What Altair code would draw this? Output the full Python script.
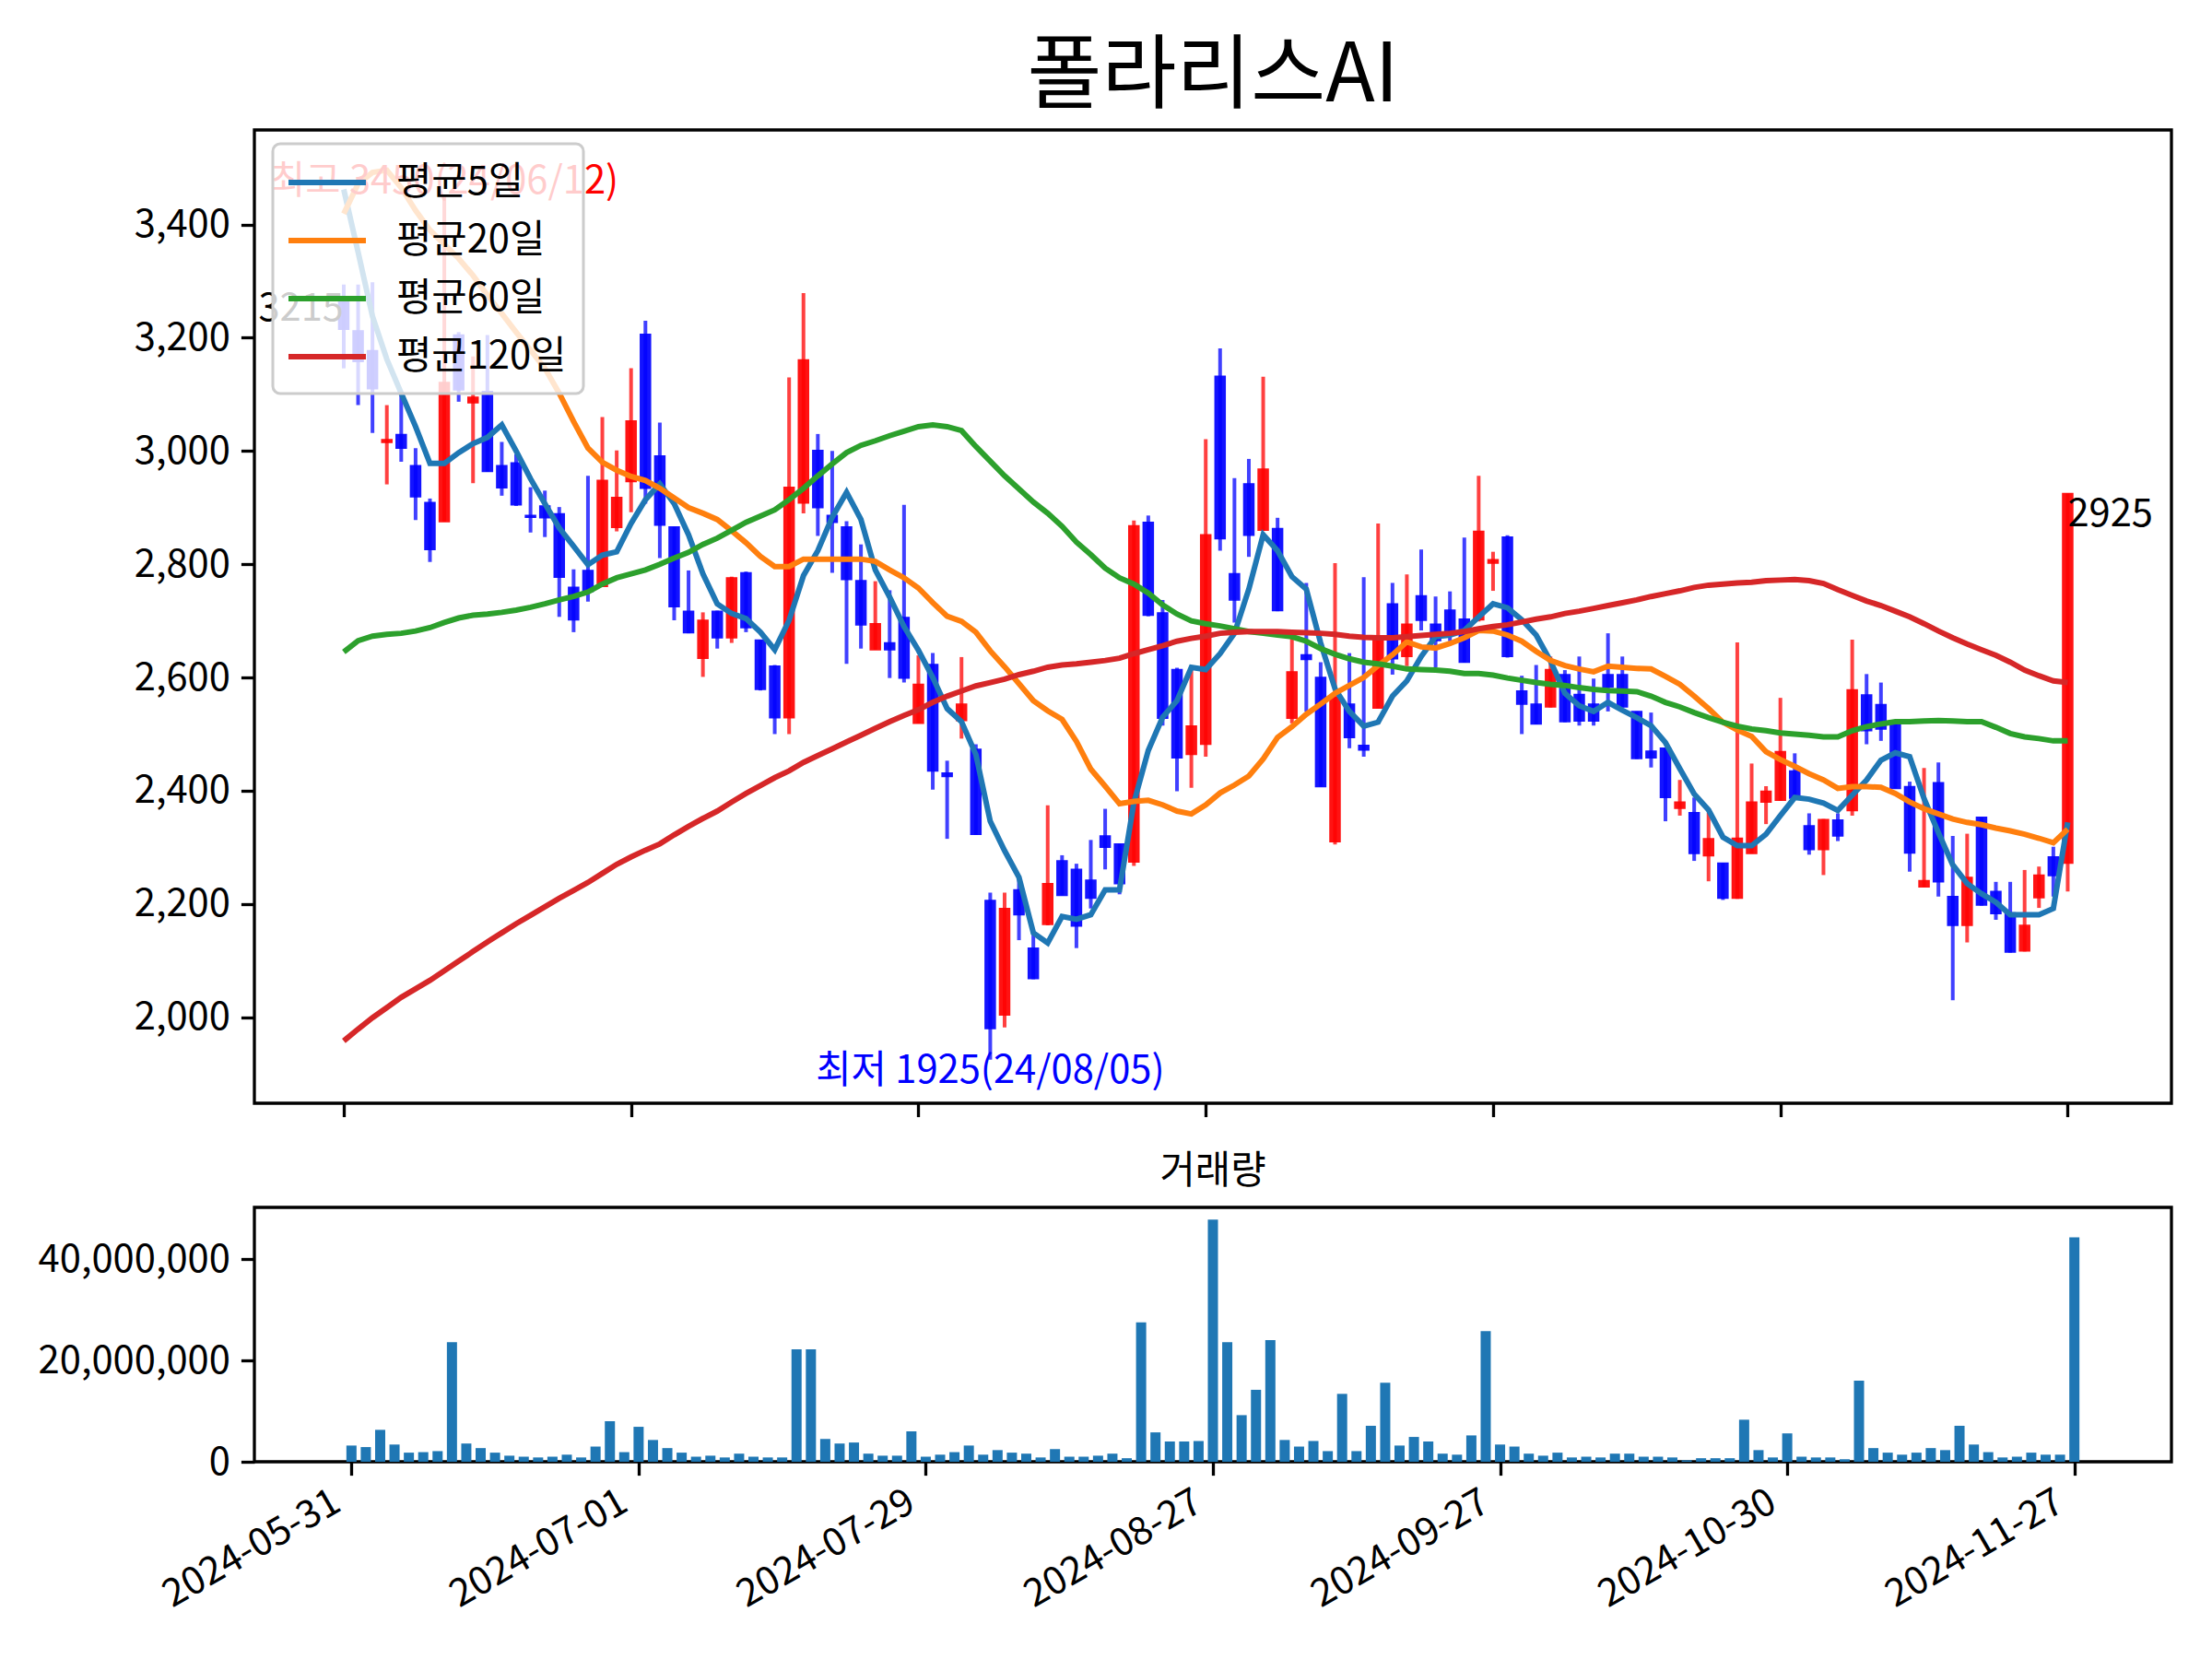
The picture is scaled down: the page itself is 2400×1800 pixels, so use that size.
import altair as alt
import pandas as pd

# ---------------- data ----------------
tick_idx = [0, 20, 40, 60, 80, 100, 120]
tick_labels = ["2024-05-31", "2024-07-01", "2024-07-29", "2024-08-27",
               "2024-09-27", "2024-10-30", "2024-11-27"]

open_ = [3267, 3212, 3177, 3015, 3029, 2974, 2909, 2875, 3205, 3085,
         3105, 2974, 2979, 2886, 2903, 2889, 2759, 2789, 2761, 2865,
         2946, 3206, 2991, 2866, 2717, 2634, 2717, 2670, 2785, 2666,
         2620, 2529, 2908, 3001, 2886, 2866, 2771, 2649, 2661, 2706,
         2519, 2623, 2431, 2524, 2473, 2206, 2004, 2225, 2122, 2164,
         2276, 2261, 2242, 2320, 2306, 2274, 2874, 2714, 2614, 2464,
         2482, 3132, 2783, 2942, 2860, 2863, 2528, 2640, 2600, 2310,
         2553, 2480, 2546, 2730, 2637, 2744, 2694, 2719, 2703, 2702,
         2802, 2848, 2576, 2553, 2548, 2605, 2570, 2553, 2605, 2605,
         2540, 2470, 2475, 2369, 2361, 2285, 2272, 2210, 2289, 2380,
         2383, 2435, 2338, 2296, 2348, 2365, 2569, 2552, 2521, 2407,
         2230, 2414, 2213, 2162, 2353, 2222, 2184, 2117, 2211, 2283,
         2272]
high = [3294, 3294, 3298, 3081, 3102, 3005, 2916, 3450, 3210, 3167,
        3205, 3016, 2994, 2936, 2930, 2901, 2791, 2956, 3060, 3001,
        3146, 3230, 3050, 2866, 2789, 2715, 2718, 2778, 2787, 2666,
        2622, 3130, 3279, 3030, 3000, 2876, 2835, 2770, 2754, 2905,
        2639, 2643, 2453, 2636, 2482, 2220, 2220, 2247, 2148, 2374,
        2286, 2271, 2313, 2368, 2306, 2877, 2886, 2737, 2617, 2618,
        3021, 3181, 2952, 2986, 3131, 2882, 2670, 2767, 2627, 2802,
        2643, 2777, 2872, 2767, 2782, 2826, 2743, 2752, 2847, 2956,
        2822, 2851, 2603, 2622, 2637, 2613, 2637, 2598, 2678, 2637,
        2540, 2538, 2475, 2419, 2388, 2361, 2272, 2662, 2448, 2408,
        2564, 2466, 2360, 2350, 2360, 2667, 2606, 2591, 2524, 2416,
        2440, 2450, 2320, 2324, 2353, 2239, 2239, 2260, 2266, 2301,
        2925]
low = [3146, 3081, 3032, 2941, 2981, 2878, 2804, 2875, 3087, 2943,
       2963, 2921, 2903, 2856, 2848, 2707, 2680, 2734, 2761, 2858,
       2892, 2907, 2811, 2701, 2678, 2601, 2651, 2661, 2680, 2577,
       2500, 2500, 2890, 2850, 2785, 2624, 2651, 2649, 2599, 2591,
       2519, 2402, 2315, 2492, 2322, 1925, 1982, 2136, 2067, 2162,
       2215, 2122, 2192, 2261, 2217, 2267, 2708, 2515, 2399, 2405,
       2460, 2824, 2697, 2813, 2859, 2717, 2519, 2540, 2407, 2305,
       2475, 2460, 2545, 2605, 2620, 2683, 2618, 2664, 2626, 2699,
       2753, 2635, 2500, 2517, 2547, 2521, 2515, 2515, 2540, 2547,
       2456, 2441, 2346, 2356, 2276, 2240, 2207, 2209, 2289, 2341,
       2382, 2386, 2287, 2251, 2311, 2356, 2482, 2488, 2404, 2257,
       2230, 2213, 2030, 2132, 2197, 2172, 2114, 2116, 2193, 2213,
       2222]
close = [3215, 3158, 3110, 3020, 3005, 2919, 2826, 3121, 3108, 3095,
         2964, 2935, 2905, 2883, 2882, 2777, 2702, 2752, 2948, 2918,
         3053, 2934, 2869, 2725, 2679, 2701, 2670, 2776, 2688, 2579,
         2529, 2936, 3161, 2900, 2874, 2773, 2693, 2695, 2649, 2599,
         2588, 2435, 2425, 2553, 2323, 1980, 2192, 2181, 2068, 2236,
         2215, 2161, 2210, 2300, 2236, 2868, 2710, 2528, 2458, 2514,
         2852, 2845, 2737, 2851, 2968, 2718, 2610, 2632, 2407, 2565,
         2494, 2472, 2667, 2633, 2694, 2701, 2665, 2675, 2627, 2858,
         2808, 2637, 2553, 2518, 2614, 2522, 2523, 2523, 2583, 2548,
         2457, 2458, 2388, 2380, 2289, 2315, 2210, 2316, 2380, 2399,
         2469, 2387, 2296, 2349, 2320, 2578, 2506, 2509, 2404, 2290,
         2241, 2239, 2162, 2247, 2198, 2183, 2115, 2162, 2251, 2250,
         2925]
volume_mil = [3.2, 2.9, 6.3, 3.4, 1.8, 1.9, 2.1, 23.6, 3.6, 2.7,
              1.8, 1.2, 1.0, 0.85, 1.0, 1.4, 0.85, 3.0, 8.0, 1.9,
              6.9, 4.3, 2.7, 1.8, 1.0, 1.2, 0.85, 1.6, 1.0, 0.85,
              0.85, 22.2, 22.2, 4.5, 3.6, 3.8, 1.6, 1.2, 1.2, 6.0,
              1.0, 1.4, 1.9, 3.2, 1.4, 2.3, 1.8, 1.6, 0.85, 2.5,
              1.0, 1.0, 1.2, 1.6, 0.7, 27.5, 5.8, 4.0, 4.0, 4.1,
              47.8, 23.6, 9.2, 14.2, 24.0, 4.3, 3.0, 4.1, 2.1, 13.4,
              2.1, 7.1, 15.6, 3.2, 4.9, 4.0, 1.6, 1.4, 5.2, 25.8,
              3.4, 3.0, 1.6, 1.2, 1.8, 0.85, 1.0, 0.85, 1.6, 1.6,
              1.0, 1.0, 0.85, 0.3, 0.7, 0.7, 0.7, 8.3, 2.3, 0.85,
              5.6, 1.0, 0.85, 0.85, 0.5, 16.0, 2.7, 1.8, 1.4, 1.8,
              2.7, 2.3, 7.1, 3.4, 1.9, 0.85, 1.0, 1.8, 1.4, 1.4,
              44.3]
ma5 = [3462, 3351, 3238, 3162, 3102, 3043, 2978, 2978, 2997, 3013,
       3024, 3046, 3000, 2951, 2907, 2864, 2832, 2799, 2816, 2822,
       2872, 2914, 2942, 2907, 2852, 2783, 2730, 2713, 2704, 2680,
       2649, 2701, 2780, 2824, 2883, 2927, 2879, 2790, 2742, 2690,
       2648, 2600, 2545, 2522, 2464, 2346, 2294, 2247, 2149, 2131,
       2178, 2173, 2181, 2225, 2225, 2379, 2471, 2530, 2559, 2618,
       2614, 2642, 2678, 2756, 2852, 2824, 2778, 2756, 2661, 2580,
       2540, 2514, 2521, 2567, 2594, 2637, 2672, 2675, 2683, 2707,
       2730, 2723, 2702, 2675, 2629, 2572, 2550, 2540, 2556, 2542,
       2529, 2515, 2485, 2439, 2394, 2366, 2318, 2303, 2303, 2323,
       2356, 2388, 2385, 2378, 2365, 2392, 2419, 2454, 2467, 2460,
       2386, 2326, 2269, 2236, 2218, 2203, 2181, 2181, 2181, 2192,
       2344]
ma20 = [3419, 3472, 3492, 3496, 3465, 3425, 3390, 3365, 3340, 3310,
        3275, 3243, 3210, 3178, 3146, 3102, 3052, 3005, 2980, 2966,
        2955, 2948, 2934, 2917, 2900, 2890, 2879, 2859, 2838, 2814,
        2796, 2796, 2809, 2809, 2809, 2809, 2809, 2805, 2790, 2776,
        2758, 2732, 2708, 2699, 2680, 2647, 2619, 2589, 2559, 2541,
        2526, 2487, 2438, 2408, 2377, 2381, 2383, 2375, 2364, 2359,
        2375, 2396, 2410, 2426, 2456, 2494, 2513, 2535, 2553, 2572,
        2586, 2600, 2621, 2640, 2663, 2654, 2652, 2660, 2670, 2683,
        2682, 2675, 2664, 2646, 2630, 2621, 2615, 2610, 2620, 2618,
        2616, 2615, 2602, 2588, 2567, 2545, 2521, 2507, 2496, 2469,
        2455, 2443, 2430, 2419, 2404, 2407, 2407, 2406, 2395, 2380,
        2368, 2359, 2350, 2344, 2340, 2334, 2329, 2323, 2316, 2308,
        2332]
ma60 = [2645, 2665, 2673, 2676, 2678, 2682, 2688, 2697, 2705, 2710,
        2712, 2715, 2719, 2724, 2730, 2737, 2743, 2751, 2765, 2776,
        2783, 2790, 2800, 2811, 2821, 2835, 2846, 2860, 2874, 2885,
        2896, 2914, 2934, 2956, 2977, 2997, 3010, 3018, 3027, 3035,
        3043, 3046, 3043, 3036, 3008, 2982, 2956, 2933, 2910, 2890,
        2867, 2839, 2817, 2793, 2776, 2765, 2749, 2728, 2712, 2700,
        2695, 2691, 2686, 2681, 2678, 2675, 2672, 2664, 2651, 2641,
        2633, 2627, 2624, 2620, 2615, 2614, 2613, 2611, 2607, 2607,
        2604, 2599, 2595, 2591, 2588, 2586, 2582, 2579, 2577, 2576,
        2575, 2567, 2556, 2548, 2538, 2529, 2521, 2514, 2509, 2506,
        2502, 2500, 2498, 2495, 2495, 2506, 2513, 2518, 2522, 2522,
        2523, 2524, 2523, 2522, 2522, 2512, 2501, 2495, 2492, 2488,
        2488]
ma120 = [1958, 1979, 1999, 2017, 2035, 2050, 2065, 2082, 2099, 2116,
         2133, 2149, 2165, 2180, 2195, 2210, 2224, 2238, 2254, 2270,
         2283, 2295, 2306, 2322, 2337, 2351, 2364, 2380, 2395, 2409,
         2423, 2435, 2450, 2462, 2474, 2486, 2498, 2510, 2522, 2533,
         2543, 2556, 2567, 2576, 2585, 2591, 2597, 2605, 2611, 2618,
         2622, 2624, 2627, 2630, 2634, 2642, 2649, 2656, 2664, 2669,
         2673, 2678, 2680, 2681, 2681, 2681, 2680, 2679, 2678, 2676,
         2673, 2671, 2670, 2670, 2672, 2674, 2676, 2678, 2681, 2686,
         2690, 2693, 2698, 2703, 2707, 2713, 2717, 2722, 2727, 2732,
         2737, 2743, 2748, 2753, 2759, 2763, 2765, 2767, 2768, 2771,
         2772, 2773, 2771, 2766, 2755, 2745, 2735, 2727, 2717, 2707,
         2695, 2682, 2670, 2659, 2649, 2639, 2627, 2613, 2603, 2594,
         2591]

ma_names = ["평균5일", "평균20일", "평균60일", "평균120일"]
ma_colors = ["#1f77b4", "#ff7f0e", "#2ca02c", "#d62728"]

title_text = "폴라리스AI"
volume_title = "거래량"
max_idx, max_val, max_date = 7, 3450, "24/06/12"
min_idx, min_val, min_date = 45, 1925, "24/08/05"
first_idx, first_close = 0, 3215
last_idx, last_close = 120, 2925

# ---------------- frames ----------------
n = len(close)
idx = list(range(n))
candles = pd.DataFrame({"idx": idx, "open": open_, "high": high,
                        "low": low, "close": close})
vol_df = pd.DataFrame({"idx": idx, "volume": [v * 1_000_000 for v in volume_mil]})
ma_df = pd.concat([
    pd.DataFrame({"idx": idx, "value": vals, "series": name})
    for name, vals in zip(ma_names, [ma5, ma20, ma60, ma120])
])

FONT = "Noto Sans CJK KR"
FS = 41.7
PLOT_W = 2080
FRAME = alt.ViewBackground(stroke="black", strokeWidth=3.3)

x_main_scale = alt.Scale(domain=[-5.9, 126.9], nice=False, zero=False)
y_main_scale = alt.Scale(domain=[1848, 3567], nice=False, zero=False)

x_main = alt.X("idx:Q", scale=x_main_scale, title=None,
               axis=alt.Axis(values=tick_idx, labels=False, ticks=True,
                             tickSize=14.6, tickWidth=3.3, tickColor="black",
                             domain=False, grid=False))
def ymain(field):
    return alt.Y(field, scale=y_main_scale, title=None,
                 axis=alt.Axis(values=list(range(2000, 3401, 200)), format=",d",
                               labelFontSize=FS, labelFont=FONT, labelColor="black",
                               labelLimit=400,
                               tickSize=14.6, tickWidth=3.3, tickColor="black",
                               labelPadding=12, domain=False, grid=False))

updown = alt.condition("datum.close >= datum.open", alt.value("#ff0000"), alt.value("#0000ff"))

base = alt.Chart(candles)
wicks = base.mark_rule(strokeWidth=4, opacity=0.75).encode(
    x=x_main, y=ymain("low:Q"), y2="high:Q", color=updown)
bodies = base.mark_bar(size=11, opacity=0.92, strokeWidth=1.5).encode(
    x=x_main, y=ymain("open:Q"), y2="close:Q", color=updown, stroke=updown)

lines = alt.Chart(ma_df).mark_line(strokeWidth=6).encode(
    x=x_main, y=ymain("value:Q"),
    color=alt.Color("series:N", sort=ma_names,
                    scale=alt.Scale(domain=ma_names, range=ma_colors),
                    legend=alt.Legend(title=None, orient="none", legendX=20, legendY=15,
                                      symbolType="M-2,0H2", symbolSize=1764,
                                      symbolStrokeWidth=6, symbolOffset=17,
                                      symbolFillColor="transparent",
                                      labelFontSize=FS,
                                      labelFont=FONT, labelColor="black", labelLimit=500,
                                      labelOffset=51, rowPadding=17, padding=18,
                                      fillColor="rgba(255,255,255,0.8)",
                                      strokeColor="#cccccc",
                                      cornerRadius=8)))

def label(i, v, text, color, align, baseline, dy=0):
    df = pd.DataFrame({"idx": [i], "v": [v], "t": [text]})
    return alt.Chart(df).mark_text(align=align, baseline=baseline, color=color,
                                   fontSize=FS, font=FONT, dy=dy).encode(
        x=x_main, y=ymain("v:Q"), text="t:N")

t_max = label(max_idx, max_val, f"최고 {max_val}({max_date})", "#ff0000", "center", "bottom", 6)
t_min = label(min_idx, min_val, f"최저 {min_val}({min_date})", "#0000ff", "center", "top", -8)
t_first = label(first_idx, first_close, f"{first_close}", "black", "right", "bottom")
t_last = label(last_idx, last_close, f"{last_close}", "black", "left", "top", 3)

main = alt.layer(wicks, bodies, lines, t_max, t_min, t_first, t_last).properties(
    width=PLOT_W, height=1056, view=FRAME,
    title=alt.TitleParams(title_text, fontSize=88, font=FONT, fontWeight="normal",
                          anchor="middle", color="black", offset=13))

label_expr = " : ".join(f"datum.value == {i} ? '{d}'" for i, d in zip(tick_idx, tick_labels)) + " : ''"

vol = alt.Chart(vol_df).mark_bar(size=11, color="#1f77b4").encode(
    x=alt.X("idx:Q", scale=alt.Scale(domain=[-6.44, 126.44], nice=False, zero=False),
            title=None,
            axis=alt.Axis(values=tick_idx, labelExpr=label_expr, labelAngle=330,
                          labelAlign="right", labelBaseline="top", labelOffset=-26,
                          labelFontSize=FS, labelFont=FONT, labelColor="black",
                          labelLimit=400,
                          tickSize=14.6, tickWidth=3.3, tickColor="black",
                          labelPadding=8, domain=False, grid=False)),
    y=alt.Y("volume:Q", scale=alt.Scale(domain=[0, 50_200_000], nice=False, zero=True),
            title=None,
            axis=alt.Axis(values=[0, 20_000_000, 40_000_000], format=",d",
                          labelFontSize=FS, labelFont=FONT, labelColor="black",
                          labelLimit=400,
                          tickSize=14.6, tickWidth=3.3, tickColor="black",
                          labelPadding=12, domain=False, grid=False)),
).properties(width=PLOT_W, height=276, view=FRAME,
             title=alt.TitleParams(volume_title, fontSize=FS, font=FONT, fontWeight="normal",
                                   anchor="middle", color="black", offset=17))

chart = alt.vconcat(main, vol, spacing=113, bounds="flush").properties(
    padding={"left": 31, "top": 30, "right": 10, "bottom": 10}
).configure(font=FONT).configure_view(stroke="black", strokeWidth=3.3)

try:
    trial = chart.configure_legend(strokeWidth=3)
    trial.to_dict()
    chart = trial
except Exception:
    pass

chart.save("out.html", embed_options={"renderer": "svg", "actions": False})
